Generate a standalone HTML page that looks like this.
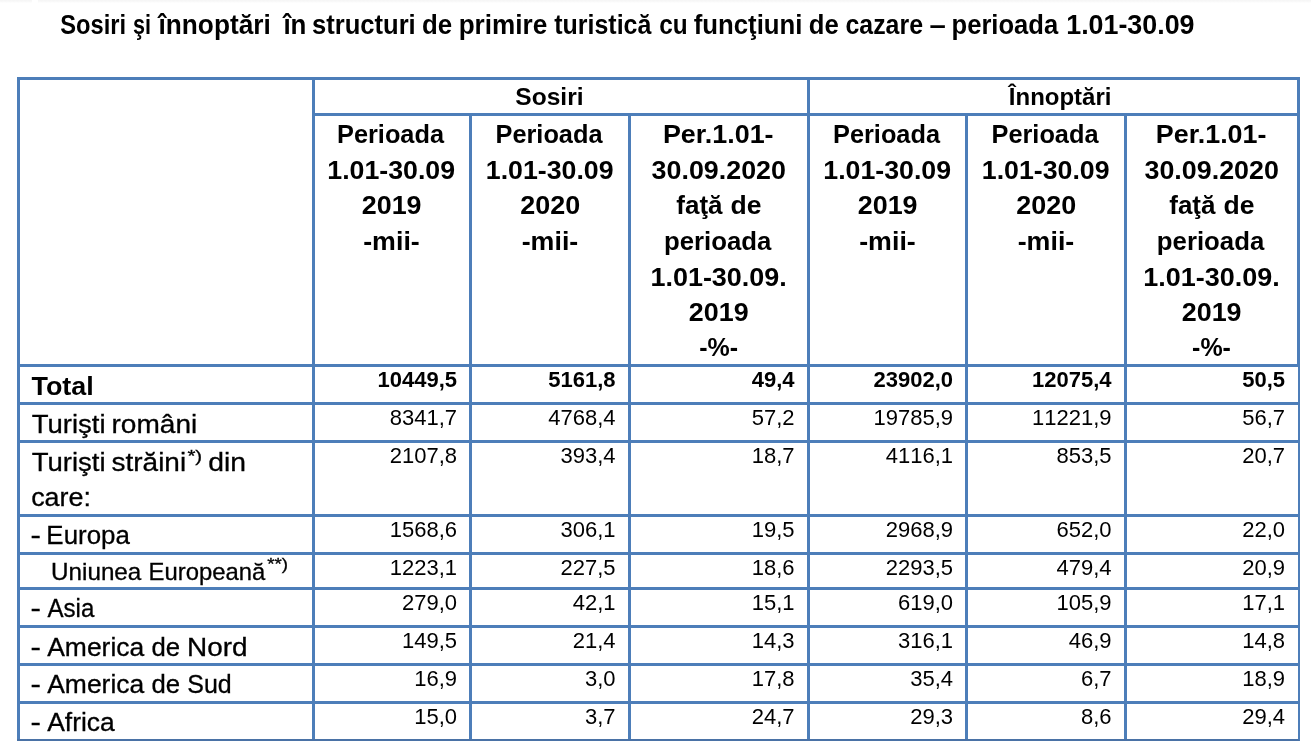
<!DOCTYPE html>
<html lang="ro">
<head>
<meta charset="utf-8">
<title>Sosiri şi înnoptări în structuri de primire turistică</title>
<style>
    html,body{margin:0;padding:0;background:#fff;}
    body{width:1311px;height:745px;position:relative;overflow:hidden;font-family:"Liberation Sans",sans-serif;color:#000;}
    h1{margin:0;padding:0;font-size:inherit;font-weight:normal;position:absolute;left:0;top:0;width:0;height:0;}
    .t{position:absolute;left:0;display:block;margin:0;white-space:pre;line-height:1;transform-origin:0 0;font-weight:normal;vertical-align:baseline;}
    .f0{font-size:27px;font-weight:bold;}
.f1{font-size:24.7px;font-weight:bold;}
.f2{font-size:25.4px;font-weight:bold;}
.f3{font-size:26.2px;font-weight:bold;}
.f4{font-size:26.2px;-webkit-text-stroke:0.3px #000;}
.f5{font-size:16.6px;-webkit-text-stroke:0.3px #000;}
.f6{font-size:23.4px;-webkit-text-stroke:0.3px #000;}
table{position:absolute;left:17px;top:77px;border-collapse:separate;border-spacing:0;table-layout:fixed;width:1283px;border-right:2px solid #4d7eb9;border-bottom:2px solid #4a72a6;}
    td,th{box-sizing:border-box;padding:0;margin:0;border-left:3px solid #4d7eb9;border-top:3px solid #4d7eb9;vertical-align:top;font-weight:normal;text-align:left;}
    th.e{border-right:1px solid #4d7eb9;}
.c{position:relative;overflow:visible;}
.top{position:absolute;top:0;height:3px;background:linear-gradient(#f5f5f5,#f8f8f8 45%,#fff);}
    .n{position:absolute;font-size:22px;line-height:1;white-space:pre;font-kerning:none;}
    .b{font-weight:bold;}
    </style>
</head>
<body>
<div class="top" style="left:0;width:32px"></div><div class="top" style="left:38px;right:0"></div>
<h1><span class="t f0" style="top:12px;transform:translateX(60.22px) scaleX(0.878)">Sosiri </span><span class="t f0" style="top:12px;transform:translateX(133.05px) scaleX(0.799)">şi </span><span class="t f0" style="top:12px;transform:translateX(158.51px) scaleX(0.972)">înnoptări  </span><span class="t f0" style="top:12px;transform:translateX(283.4px) scaleX(0.959)">în </span><span class="t f0" style="top:12px;transform:translateX(311.97px) scaleX(0.947)">structuri </span><span class="t f0" style="top:12px;transform:translateX(422.09px) scaleX(0.956)">de </span><span class="t f0" style="top:12px;transform:translateX(458.65px) scaleX(0.968)">primire </span><span class="t f0" style="top:12px;transform:translateX(554.28px) scaleX(0.924)">turistică </span><span class="t f0" style="top:12px;transform:translateX(659.29px) scaleX(0.901)">cu </span><span class="t f0" style="top:12px;transform:translateX(693.74px) scaleX(0.954)">funcţiuni </span><span class="t f0" style="top:12px;transform:translateX(808.8px) scaleX(0.949)">de </span><span class="t f0" style="top:12px;transform:translateX(845.46px) scaleX(0.922)">cazare </span><span class="t f0" style="top:12px;transform:translateX(929.52px) scaleX(1.085)">– </span><span class="t f0" style="top:12px;transform:translateX(951.58px) scaleX(0.947)">perioada </span><span class="t f0" style="top:12px;transform:translateX(1066.2px) scaleX(0.994)">1.01-30.09</span></h1>
<table>
<colgroup><col style="width:295px"><col style="width:157px"><col style="width:159px"><col style="width:179px"><col style="width:158px"><col style="width:159px"><col style="width:174px"></colgroup>
<thead>
<tr><th rowspan="2"><div class="c" style="height:284px"></div></th>
<th colspan="3"><div class="c" style="height:33px"><span class="t f1" style="top:5px;transform:translateX(200.34px) scaleX(0.994)">Sosiri</span></div></th>
<th colspan="3" class="e"><div class="c" style="height:33px"><span class="t f1" style="top:5px;transform:translateX(198.82px) scaleX(0.972)">Înnoptări</span></div></th></tr>
<tr><th><div class="c" style="height:248px"><span class="t f2" style="top:6px;transform:translateX(22px) scaleX(0.998)">Perioada</span><span class="t f2" style="top:42px;transform:translateX(12.26px) scaleX(1.053)">1.01-30.09</span><span class="t f2" style="top:77px;transform:translateX(46.72px) scaleX(1.059)">2019</span><span class="t f2" style="top:113px;transform:translateX(48.2px) scaleX(1.055)">-mii-</span></div></th>
<th><div class="c" style="height:248px"><span class="t f2" style="top:6px;transform:translateX(23.5px) scaleX(0.998)">Perioada</span><span class="t f2" style="top:42px;transform:translateX(13.76px) scaleX(1.053)">1.01-30.09</span><span class="t f2" style="top:77px;transform:translateX(48.22px) scaleX(1.061)">2020</span><span class="t f2" style="top:113px;transform:translateX(49.7px) scaleX(1.055)">-mii-</span></div></th>
<th><div class="c" style="height:248px"><span class="t f2" style="top:6px;transform:translateX(31.94px) scaleX(1.059)">Per.1.01-</span><span class="t f2" style="top:42px;transform:translateX(20.61px) scaleX(1.057)">30.09.2020</span><span class="t f2" style="top:77px;transform:translateX(45.34px) scaleX(1.024)">faţă </span><span class="t f2" style="top:77px;transform:translateX(99.54px) scaleX(1.046)">de</span><span class="t f2" style="top:113px;transform:translateX(32.92px) scaleX(1.015)">perioada</span><span class="t f2" style="top:149px;transform:translateX(19.4px) scaleX(1.062)">1.01-30.09.</span><span class="t f2" style="top:184px;transform:translateX(57.82px) scaleX(1.059)">2019</span><span class="t f2" style="top:219px;transform:translateX(68.22px) scaleX(0.983)">-%-</span></div></th>
<th><div class="c" style="height:248px"><span class="t f2" style="top:6px;transform:translateX(23px) scaleX(0.998)">Perioada</span><span class="t f2" style="top:42px;transform:translateX(13.26px) scaleX(1.053)">1.01-30.09</span><span class="t f2" style="top:77px;transform:translateX(47.72px) scaleX(1.059)">2019</span><span class="t f2" style="top:113px;transform:translateX(49.2px) scaleX(1.055)">-mii-</span></div></th>
<th><div class="c" style="height:248px"><span class="t f2" style="top:6px;transform:translateX(23.5px) scaleX(0.998)">Perioada</span><span class="t f2" style="top:42px;transform:translateX(13.76px) scaleX(1.053)">1.01-30.09</span><span class="t f2" style="top:77px;transform:translateX(48.22px) scaleX(1.061)">2020</span><span class="t f2" style="top:113px;transform:translateX(49.7px) scaleX(1.055)">-mii-</span></div></th>
<th class="e"><div class="c" style="height:248px"><span class="t f2" style="top:6px;transform:translateX(28.84px) scaleX(1.059)">Per.1.01-</span><span class="t f2" style="top:42px;transform:translateX(17.51px) scaleX(1.057)">30.09.2020</span><span class="t f2" style="top:77px;transform:translateX(42.24px) scaleX(1.024)">faţă </span><span class="t f2" style="top:77px;transform:translateX(96.44px) scaleX(1.046)">de</span><span class="t f2" style="top:113px;transform:translateX(29.82px) scaleX(1.015)">perioada</span><span class="t f2" style="top:149px;transform:translateX(16.3px) scaleX(1.062)">1.01-30.09.</span><span class="t f2" style="top:184px;transform:translateX(54.72px) scaleX(1.059)">2019</span><span class="t f2" style="top:219px;transform:translateX(65.12px) scaleX(0.983)">-%-</span></div></th>
</tr>
</thead>
<tbody>
<tr><td><div class="c" style="height:35px"><span class="t f3" style="top:6px;transform:translateX(11.48px) scaleX(1.027)">Total</span></div></td><td><div class="c" style="height:35px"><span class="n b" style="top:2px;right:12px">10449,5</span></div></td><td><div class="c" style="height:35px"><span class="n b" style="top:2px;right:12.4px">5161,8</span></div></td><td><div class="c" style="height:35px"><span class="n b" style="top:2px;right:12.5px">49,4</span></div></td><td><div class="c" style="height:35px"><span class="n b" style="top:2px;right:12px">23902,0</span></div></td><td><div class="c" style="height:35px"><span class="n b" style="top:2px;right:12.5px">12075,4</span></div></td><td><div class="c" style="height:35px"><span class="n b" style="top:2px;right:13px">50,5</span></div></td></tr>
<tr><td><div class="c" style="height:35px"><span class="t f4" style="top:6px;transform:translateX(11.67px) scaleX(1.052)">Turişti </span><span class="t f4" style="top:6px;transform:translateX(91.52px) scaleX(1.071)">români</span></div></td><td><div class="c" style="height:35px"><span class="n" style="top:2px;right:12px">8341,7</span></div></td><td><div class="c" style="height:35px"><span class="n" style="top:2px;right:12.4px">4768,4</span></div></td><td><div class="c" style="height:35px"><span class="n" style="top:2px;right:12.5px">57,2</span></div></td><td><div class="c" style="height:35px"><span class="n" style="top:2px;right:12px">19785,9</span></div></td><td><div class="c" style="height:35px"><span class="n" style="top:2px;right:12.5px">11221,9</span></div></td><td><div class="c" style="height:35px"><span class="n" style="top:2px;right:13px">56,7</span></div></td></tr>
<tr><td><div class="c" style="height:71px"><span class="t f4" style="top:6px;transform:translateX(11.67px) scaleX(1.052)">Turişti </span><span class="t f4" style="top:6px;transform:translateX(91.53px) scaleX(1.068)">străini</span><sup class="t f5" style="top:6px;transform:translateX(167.4px) scaleX(1.231)">*)</sup><span class="t f4" style="top:6px;transform:translateX(180.43px) scaleX(1.081)"> din</span><span class="t f4" style="top:41px;transform:translateX(11.18px) scaleX(1.026)">care:</span></div></td><td><div class="c" style="height:71px"><span class="n" style="top:2px;right:12px">2107,8</span></div></td><td><div class="c" style="height:71px"><span class="n" style="top:2px;right:12.4px">393,4</span></div></td><td><div class="c" style="height:71px"><span class="n" style="top:2px;right:12.5px">18,7</span></div></td><td><div class="c" style="height:71px"><span class="n" style="top:2px;right:12px">4116,1</span></div></td><td><div class="c" style="height:71px"><span class="n" style="top:2px;right:12.5px">853,5</span></div></td><td><div class="c" style="height:71px"><span class="n" style="top:2px;right:13px">20,7</span></div></td></tr>
<tr><td><div class="c" style="height:35px"><span class="t f4" style="top:5px;transform:translateX(10.59px) scaleX(1.193)">- </span><span class="t f4" style="top:5px;transform:translateX(26.37px) scaleX(0.988)">Europa</span></div></td><td><div class="c" style="height:35px"><span class="n" style="top:2px;right:12px">1568,6</span></div></td><td><div class="c" style="height:35px"><span class="n" style="top:2px;right:12.4px">306,1</span></div></td><td><div class="c" style="height:35px"><span class="n" style="top:2px;right:12.5px">19,5</span></div></td><td><div class="c" style="height:35px"><span class="n" style="top:2px;right:12px">2968,9</span></div></td><td><div class="c" style="height:35px"><span class="n" style="top:2px;right:12.5px">652,0</span></div></td><td><div class="c" style="height:35px"><span class="n" style="top:2px;right:13px">22,0</span></div></td></tr>
<tr><td><div class="c" style="height:32px"><span class="t f6" style="top:6px;transform:translateX(31.04px) scaleX(1.036)">Uniunea </span><span class="t f6" style="top:6px;transform:translateX(128.54px) scaleX(1.019)">Europeană</span><sup class="t f5" style="top:2px;transform:translateX(247.15px) scaleX(1.131)">**)</sup></div></td><td><div class="c" style="height:32px"><span class="n" style="top:2px;right:12px">1223,1</span></div></td><td><div class="c" style="height:32px"><span class="n" style="top:2px;right:12.4px">227,5</span></div></td><td><div class="c" style="height:32px"><span class="n" style="top:2px;right:12.5px">18,6</span></div></td><td><div class="c" style="height:32px"><span class="n" style="top:2px;right:12px">2293,5</span></div></td><td><div class="c" style="height:32px"><span class="n" style="top:2px;right:12.5px">479,4</span></div></td><td><div class="c" style="height:32px"><span class="n" style="top:2px;right:13px">20,9</span></div></td></tr>
<tr><td><div class="c" style="height:35px"><span class="t f4" style="top:5px;transform:translateX(10.59px) scaleX(1.193)">- </span><span class="t f4" style="top:5px;transform:translateX(27.45px) scaleX(0.920)">Asia</span></div></td><td><div class="c" style="height:35px"><span class="n" style="top:2px;right:12px">279,0</span></div></td><td><div class="c" style="height:35px"><span class="n" style="top:2px;right:12.4px">42,1</span></div></td><td><div class="c" style="height:35px"><span class="n" style="top:2px;right:12.5px">15,1</span></div></td><td><div class="c" style="height:35px"><span class="n" style="top:2px;right:12px">619,0</span></div></td><td><div class="c" style="height:35px"><span class="n" style="top:2px;right:12.5px">105,9</span></div></td><td><div class="c" style="height:35px"><span class="n" style="top:2px;right:13px">17,1</span></div></td></tr>
<tr><td><div class="c" style="height:35px"><span class="t f4" style="top:6px;transform:translateX(10.59px) scaleX(1.193)">- </span><span class="t f4" style="top:6px;transform:translateX(27.23px) scaleX(1.010)">America </span><span class="t f4" style="top:6px;transform:translateX(131.57px) scaleX(0.981)">de </span><span class="t f4" style="top:6px;transform:translateX(167px) scaleX(1.066)">Nord</span></div></td><td><div class="c" style="height:35px"><span class="n" style="top:2px;right:12px">149,5</span></div></td><td><div class="c" style="height:35px"><span class="n" style="top:2px;right:12.4px">21,4</span></div></td><td><div class="c" style="height:35px"><span class="n" style="top:2px;right:12.5px">14,3</span></div></td><td><div class="c" style="height:35px"><span class="n" style="top:2px;right:12px">316,1</span></div></td><td><div class="c" style="height:35px"><span class="n" style="top:2px;right:12.5px">46,9</span></div></td><td><div class="c" style="height:35px"><span class="n" style="top:2px;right:13px">14,8</span></div></td></tr>
<tr><td><div class="c" style="height:35px"><span class="t f4" style="top:5px;transform:translateX(10.59px) scaleX(1.193)">- </span><span class="t f4" style="top:5px;transform:translateX(27.23px) scaleX(1.010)">America </span><span class="t f4" style="top:5px;transform:translateX(131.57px) scaleX(0.981)">de </span><span class="t f4" style="top:5px;transform:translateX(167.28px) scaleX(0.953)">Sud</span></div></td><td><div class="c" style="height:35px"><span class="n" style="top:2px;right:12px">16,9</span></div></td><td><div class="c" style="height:35px"><span class="n" style="top:2px;right:12.4px">3,0</span></div></td><td><div class="c" style="height:35px"><span class="n" style="top:2px;right:12.5px">17,8</span></div></td><td><div class="c" style="height:35px"><span class="n" style="top:2px;right:12px">35,4</span></div></td><td><div class="c" style="height:35px"><span class="n" style="top:2px;right:12.5px">6,7</span></div></td><td><div class="c" style="height:35px"><span class="n" style="top:2px;right:13px">18,9</span></div></td></tr>
<tr><td><div class="c" style="height:35px"><span class="t f4" style="top:5px;transform:translateX(10.59px) scaleX(1.193)">- </span><span class="t f4" style="top:5px;transform:translateX(27.23px) scaleX(1.009)">Africa</span></div></td><td><div class="c" style="height:35px"><span class="n" style="top:2px;right:12px">15,0</span></div></td><td><div class="c" style="height:35px"><span class="n" style="top:2px;right:12.4px">3,7</span></div></td><td><div class="c" style="height:35px"><span class="n" style="top:2px;right:12.5px">24,7</span></div></td><td><div class="c" style="height:35px"><span class="n" style="top:2px;right:12px">29,3</span></div></td><td><div class="c" style="height:35px"><span class="n" style="top:2px;right:12.5px">8,6</span></div></td><td><div class="c" style="height:35px"><span class="n" style="top:2px;right:13px">29,4</span></div></td></tr>
</tbody>
</table>
</body>
</html>
